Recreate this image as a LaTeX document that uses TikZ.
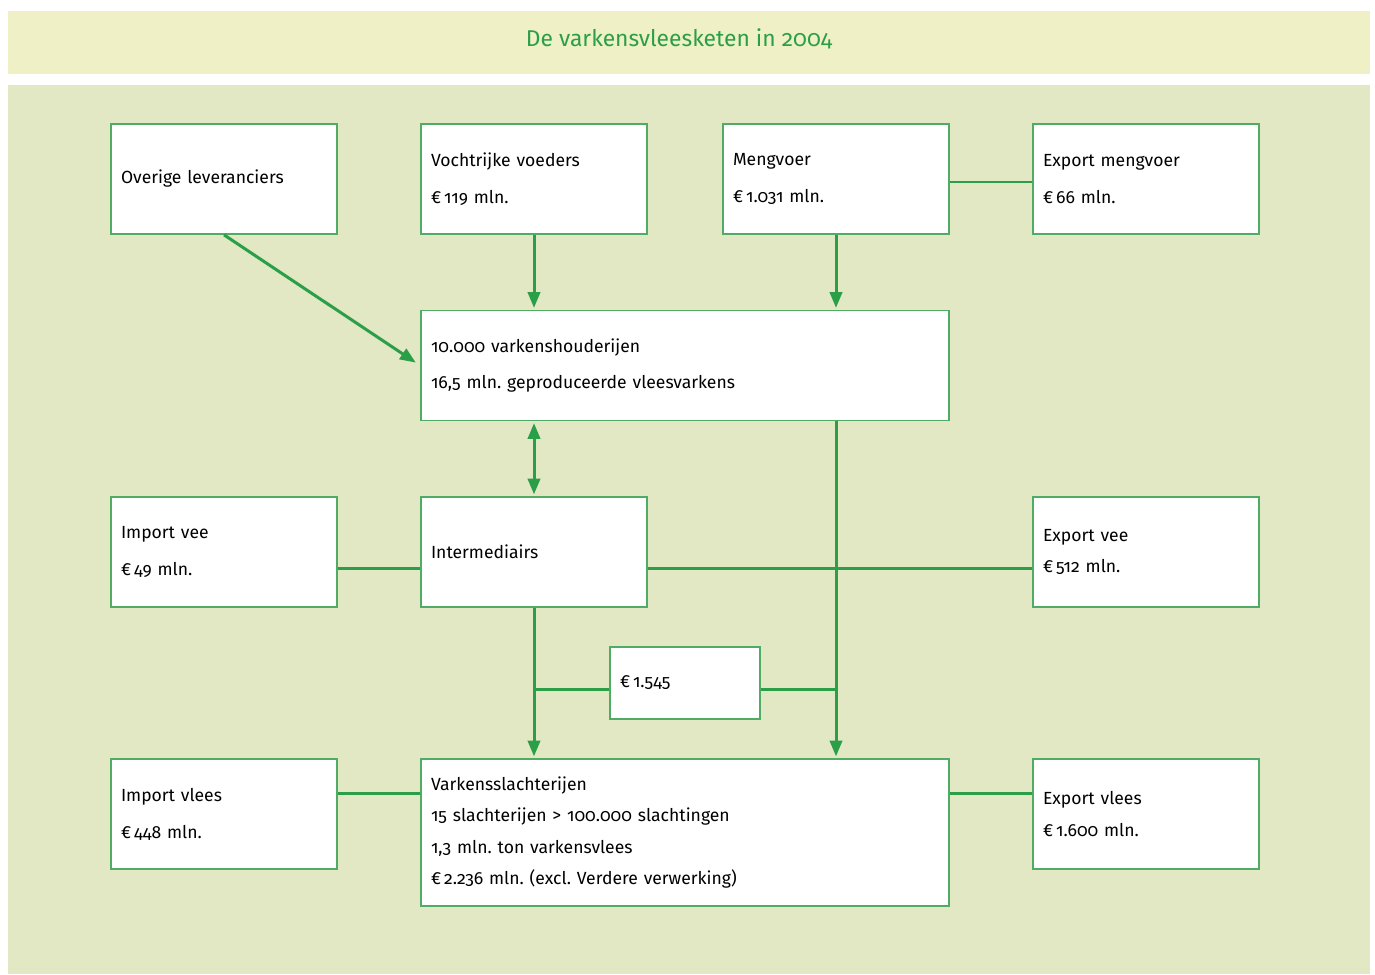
\documentclass[tikz,border=0pt]{standalone}
\usepackage{fontspec}
\setmainfont[Numbers=OldStyle]{Fira Sans}
\usetikzlibrary{arrows.meta}
\frenchspacing
\definecolor{ketengroen}{RGB}{43,158,72}
\definecolor{randgroen}{RGB}{80,172,100}
\definecolor{titelveld}{RGB}{240,240,198}
\definecolor{vlak}{RGB}{226,231,196}
\tikzset{
    blok/.style={rectangle, draw=randgroen, line width=1pt, fill=white,
      minimum width=4.52cm, minimum height=2.2cm, text width=4.12cm,
      inner xsep=0.2cm, align=left, font=\fontsize{10}{21}\selectfont},
    breed/.style={blok, minimum width=10.56cm, text width=10.16cm},
    krap/.style={font=\fontsize{10}{18}\selectfont},
    lijn/.style={draw=ketengroen, line width=1.7pt},
    pijl/.style={lijn, -{Triangle[length=9pt,width=7pt]}, shorten >=1pt},
    dubbel/.style={lijn, {Triangle[length=9pt,width=7pt]}-{Triangle[length=9pt,width=7pt]}}
}

\begin{document}
\begin{tikzpicture}
  [
    x = 0.02cm,
    y = -0.02cm,
  ]
  \useasboundingbox (0,0) rectangle (1375,974);
  \fill[titelveld] (8,11) rectangle (1370,74);
  \fill[vlak] (8,85) rectangle (1370,974);

  \node[text=ketengroen, font=\fontsize{13}{15}\selectfont] (titel) at (679,39) {De varkensvleesketen in 2004};

  % bovenste rij
  \node[blok] (overige) at (224,179) {Overige leveranciers};
  \node[blok] (vocht) at (534,179) {Vochtrijke voeders\\€\,119 mln.};
  \node[blok] (meng) at (836,179) {Mengvoer\\€\,1.031 mln.};
  \node[blok] (exportmeng) at (1146,179) {Export mengvoer\\€\,66 mln.};

  \node[breed] (varkens) at (685,365.5) {10.000 varkenshouderijen\\16,5 mln. geproduceerde vleesvarkens};

  % middelste rij
  \node[blok] (importvee) at (224,552) {Import vee\\€\,49 mln.};
  \node[blok] (inter) at (534,552) {Intermediairs};
  \node[blok, krap] (exportvee) at (1146,552) {Export vee\\€\,512 mln.};

  \node[blok, minimum width=3cm, text width=2.6cm, minimum height=1.44cm] (euro) at (685,683) {€\,1.545};

  % onderste rij
  \node[blok] (importvlees) at (224,814) {Import vlees\\€\,448 mln.};
  \node[breed, krap, minimum height=2.94cm] (slacht) at (685,832.5)
    {Varkensslachterijen\\15 slachterijen > 100.000 slachtingen\\1,3 mln. ton varkensvlees\\€\,2.236 mln. (excl. Verdere verwerking)};
  \node[blok, krap] (exportvlees) at (1146,814) {Export vlees\\€\,1.600 mln.};

  \coordinate (menglijn) at (0,182);
  \coordinate (veelijn) at (0,568);
  \coordinate (splitslijn) at (0,689);
  \coordinate (vleeslijn) at (0,793);

  \draw[pijl, shorten >=3pt] (overige.south) -- (varkens.west);
  \draw[pijl] (vocht.south) -- (vocht.south |- varkens.north);
  \draw[pijl] (meng.south) -- (meng.south |- varkens.north);
  \draw[lijn] (meng.east |- menglijn) -- (exportmeng.west |- menglijn);
  \draw[dubbel, shorten <=1pt, shorten >=1pt] (inter.north |- varkens.south) -- (inter.north);
  \draw[lijn] (importvee.east |- veelijn) -- (inter.west |- veelijn);
  \draw[lijn] (inter.east |- veelijn) -- (exportvee.west |- veelijn);
  \draw[pijl] (meng.south |- varkens.south) -- (meng.south |- slacht.north);
  \draw[pijl] (inter.south) -- (inter.south |- slacht.north);
  \draw[lijn] (inter.south |- splitslijn) -- (euro.west |- splitslijn);
  \draw[lijn] (euro.east |- splitslijn) -- (meng.south |- splitslijn);
  \draw[lijn] (importvlees.east |- vleeslijn) -- (slacht.west |- vleeslijn);
  \draw[lijn] (slacht.east |- vleeslijn) -- (exportvlees.west |- vleeslijn);
\end{tikzpicture}
\end{document}
